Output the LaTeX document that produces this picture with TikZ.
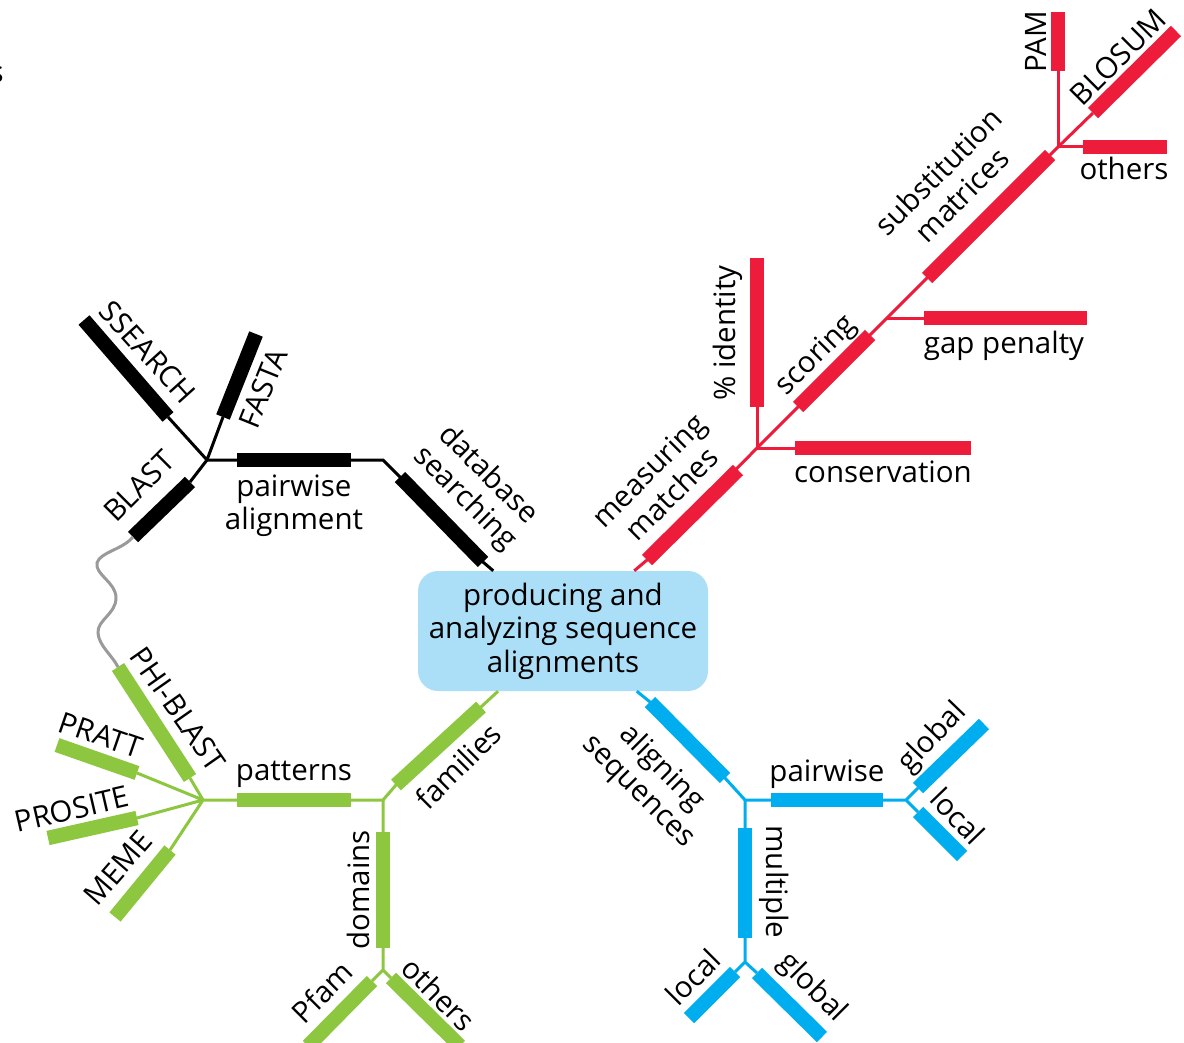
\documentclass[tikz,border=0pt]{standalone}
\usepackage{fontspec}
\setmainfont{Open Sans}
\usepackage{xcolor}
\usepackage{tikz}

\definecolor{seqred}{HTML}{ED1C3A}
\definecolor{seqgreen}{HTML}{8DC63F}
\definecolor{seqblue}{HTML}{00AEEF}
\definecolor{seqgray}{HTML}{9A9A9A}
\definecolor{hubfill}{HTML}{ABDFF7}

\tikzset{
  twig/.style={line width=3pt},
  bar/.style={line width=14.5pt},
  lab/.style={inner sep=0pt, align=center, font=\fontsize{29.5}{33}\selectfont},
  hub/.style={fill=hubfill, rounded corners=20pt, minimum width=290pt, minimum height=120pt,
    inner sep=0pt, align=center, font=\fontsize{29.5}{33.5}\selectfont}
}

\begin{document}
\begin{tikzpicture}[x=1pt, y=-1pt]
  \useasboundingbox (0,0) rectangle (1184,1043);
  % Central box
  \node[hub] (hub) at (563,631) {producing and\\analyzing sequence\\alignments};
  % cut-off letter at the left edge
  \node[lab, anchor=base east] (frag) at (4,83) {s};

  % ---- black: database searching
  \coordinate (bj)  at (207,460);
  \coordinate (dbk) at (383,460);
  \coordinate (db1) at (483,562);  \coordinate (db2) at (400,477);
  \coordinate (pw1) at (351,460);  \coordinate (pw2) at (237,460);
  \coordinate (ss1) at (168,417);  \coordinate (ss2) at (84,320);
  \coordinate (fa1) at (223,417);  \coordinate (fa2) at (256,334);
  \coordinate (bl1) at (190,482);  \coordinate (bl2) at (133,537);
  \draw[twig] (hub) -- (db1) -- (db2) -- (dbk) -- (bj);
  \draw[twig] (bj) -- (ss1) (bj) -- (fa1) (bj) -- (bl1);
  \foreach \a/\b in {db1/db2, pw1/pw2, ss1/ss2, fa1/fa2, bl1/bl2}
    \draw[bar] (\a) -- (\b);
  \node[lab, rotate=-45] (dbs) at (476,487) {database\\searching};
  \node[lab] (pwa) at (294,506) {pairwise\\alignment};
  \node[lab, rotate=-48] (ssearch) at (148,352) {SSEARCH};
  \node[lab, rotate=68] (fasta) at (263,388) {FASTA};
  \node[lab, rotate=45] (blast) at (139,486) {BLAST};

  % ---- red: measuring matches
  \coordinate (rj1) at (757,448);
  \coordinate (rj2) at (887,318);
  \coordinate (rj3) at (1058,147);
  \coordinate (mm1) at (647,560);  \coordinate (mm2) at (738,470);
  \coordinate (id1) at (757,407);  \coordinate (id2) at (757,258);
  \coordinate (cs1) at (795,448);  \coordinate (cs2) at (971,448);
  \coordinate (sc1) at (798,407);  \coordinate (sc2) at (870,335);
  \coordinate (gp1) at (924,318);  \coordinate (gp2) at (1087,318);
  \coordinate (sm1) at (927,278);  \coordinate (sm2) at (1050,155);
  \coordinate (pa1) at (1058,71);  \coordinate (pa2) at (1058,12);
  \coordinate (ot1) at (1083,147); \coordinate (ot2) at (1167,147);
  \coordinate (bo1) at (1093,113); \coordinate (bo2) at (1176,31);
  \begin{scope}[seqred]
    \draw[twig] (hub) -- (mm1) -- (rj1) -- (rj2) -- (rj3) -- (bo1);
    \draw[twig] (rj1) -- (id1) (rj1) -- (cs1) (rj2) -- (gp1) (rj3) -- (pa1) (rj3) -- (ot1);
    \foreach \a/\b in {mm1/mm2, id1/id2, cs1/cs2, sc1/sc2, gp1/gp2, sm1/sm2, pa1/pa2, ot1/ot2, bo1/bo2}
      \draw[bar] (\a) -- (\b);
  \end{scope}
  \node[lab, rotate=45] (mmt) at (660,482) {measuring\\matches};
  \node[lab, rotate=90] (pid) at (728,333) {\% identity};
  \node[lab, anchor=base] (cons) at (883,482) {conservation};
  \node[lab, rotate=45] (scor) at (817,356) {scoring};
  \node[lab, anchor=base] (gap) at (1004,353) {gap penalty};
  \node[lab, rotate=45] (subm) at (950,183) {substitution\\matrices};
  \node[lab, rotate=90] (pam) at (1036,42) {PAM};
  \node[lab, rotate=45] (blosum) at (1118,57) {BLOSUM};
  \node[lab, anchor=base] (otr) at (1124,180) {others};

  % ---- green: families
  \coordinate (gj1) at (383,800);
  \coordinate (gj2) at (383,970);
  \coordinate (pj)  at (203,800);
  \coordinate (fm1) at (481,707);  \coordinate (fm2) at (396,785);
  \coordinate (pt1) at (351,800);  \coordinate (pt2) at (237,800);
  \coordinate (dm1) at (383,832);  \coordinate (dm2) at (383,948);
  \coordinate (pf1) at (372,981);  \coordinate (pf2) at (308,1046);
  \coordinate (go1) at (391,978);  \coordinate (go2) at (460,1046);
  \coordinate (ph1) at (190,778);  \coordinate (ph2) at (118,667);
  \coordinate (pr1) at (137,773);  \coordinate (pr2) at (57,745);
  \coordinate (ps1) at (137,818);  \coordinate (ps2) at (48,838);
  \coordinate (me1) at (170,850);  \coordinate (me2) at (115,917);
  \begin{scope}[seqgreen]
    \draw[twig] (hub) -- (fm1) -- (fm2) -- (gj1) -- (pj);
    \draw[twig] (gj1) -- (gj2) -- (pf1) (gj2) -- (go1);
    \draw[twig] (pj) -- (ph1) (pj) -- (pr1) (pj) -- (ps1) (pj) -- (me1);
    \foreach \a/\b in {fm1/fm2, pt1/pt2, dm1/dm2, pf1/pf2, go1/go2, ph1/ph2, pr1/pr2, ps1/ps2, me1/me2}
      \draw[bar] (\a) -- (\b);
  \end{scope}
  \node[lab, rotate=45] (fam) at (458,766) {families};
  \node[lab, anchor=base] (pat) at (294,780) {patterns};
  \node[lab, rotate=90] (dom) at (358,890) {domains};
  \node[lab, rotate=45] (pfam) at (322,992) {Pfam};
  \node[lab, rotate=-45] (gotr) at (439,994) {others};
  \node[lab, rotate=-55] (phi) at (178,709) {PHI-BLAST};
  \node[lab, rotate=-19] (pratt) at (101,735) {PRATT};
  \node[lab, rotate=13] (pros) at (72,809) {PROSITE};
  \node[lab, rotate=49] (meme) at (118,868) {MEME};

  % grey link between the two search trees
  \draw[twig, seqgray] (bl2) .. controls (122,550) and (100,552) .. (97,563)
    .. controls (95,575) and (116,582) .. (116,598)
    .. controls (116,614) and (97,620) .. (98,633)
    .. controls (99,646) and (112,655) .. (ph2);

  % ---- blue: aligning sequences
  \coordinate (uj1) at (745,800);
  \coordinate (uj2) at (906,800);
  \coordinate (uj3) at (745,962);
  \coordinate (as1) at (650,702);  \coordinate (as2) at (725,778);
  \coordinate (pb1) at (771,800);  \coordinate (pb2) at (883,800);
  \coordinate (gl1) at (918,788);  \coordinate (gl2) at (984,724);
  \coordinate (lc1) at (918,812);  \coordinate (lc2) at (962,856);
  \coordinate (mu1) at (745,828);  \coordinate (mu2) at (745,938);
  \coordinate (ll1) at (735,972);  \coordinate (ll2) at (689,1018);
  \coordinate (lg1) at (757,973);  \coordinate (lg2) at (822,1037);
  \begin{scope}[seqblue]
    \draw[twig] (hub) -- (as1) -- (as2) -- (uj1) -- (uj2) -- (gl1) (uj2) -- (lc1);
    \draw[twig] (uj1) -- (uj3) -- (ll1) (uj3) -- (lg1);
    \foreach \a/\b in {as1/as2, pb1/pb2, gl1/gl2, lc1/lc2, mu1/mu2, ll1/ll2, lg1/lg2}
      \draw[bar] (\a) -- (\b);
  \end{scope}
  \node[lab, rotate=-45] (alseq) at (650,780) {aligning\\sequences};
  \node[lab, anchor=base] (pwb) at (827,781) {pairwise};
  \node[lab, rotate=46] (glob1) at (933,738) {global};
  \node[lab, rotate=-46] (loc1) at (958,816) {local};
  \node[lab, rotate=-90] (mult) at (774,882) {multiple};
  \node[lab, rotate=45] (loc2) at (693,977) {local};
  \node[lab, rotate=-45] (glob2) at (812,988) {global};
\end{tikzpicture}
\end{document}
